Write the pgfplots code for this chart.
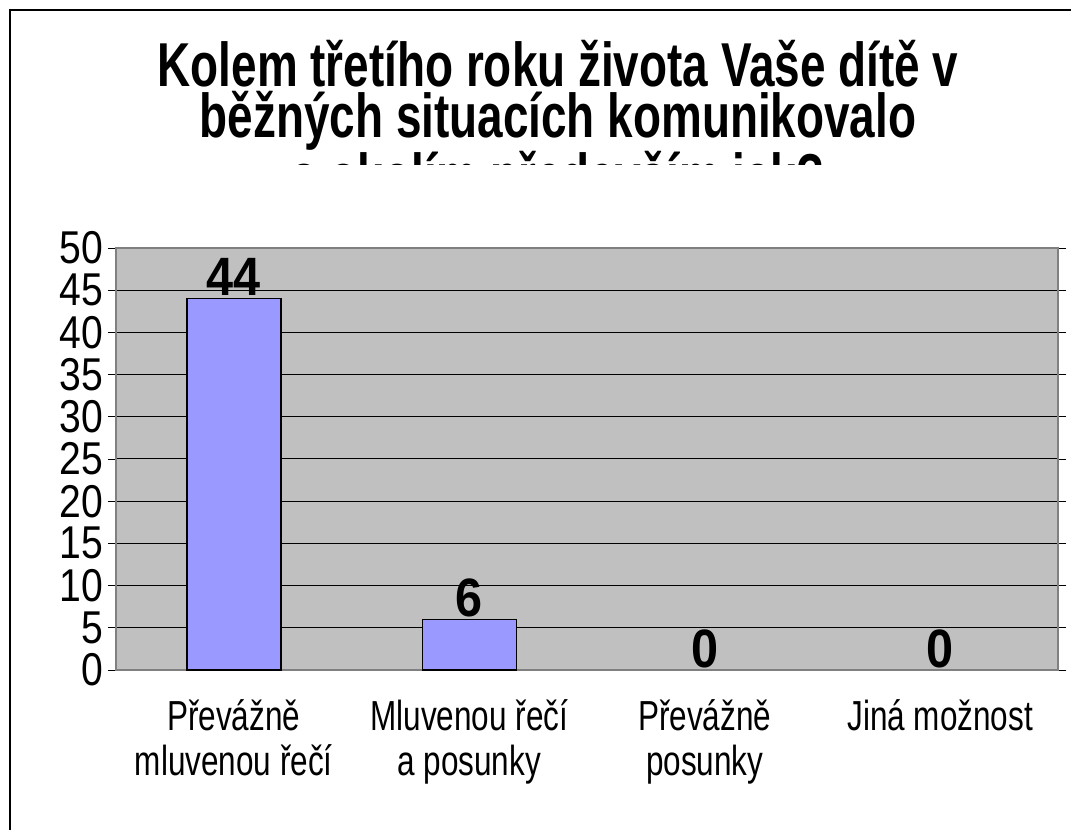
\documentclass[border=0pt]{standalone}
\usepackage{fontspec}
\usepackage{pgfplots}
\pgfplotsset{compat=1.18}
\setmainfont{Liberation Sans}
\newfontfamily\titlefont[FakeStretch=0.74]{Liberation Sans}
\newfontfamily\tickfont[FakeStretch=0.85]{Liberation Sans}
\newfontfamily\labfont[FakeStretch=0.75]{Liberation Sans}
\newfontfamily\valfont[FakeStretch=0.9]{Liberation Sans}
\definecolor{plotbg}{HTML}{C0C0C0}
\definecolor{barblue}{HTML}{9999FF}
\definecolor{framegray}{HTML}{808080}
\begin{document}
\begin{tikzpicture}[x=1pt,y=1pt]
\useasboundingbox (0,0) rectangle (1071,830);
\draw[black, line width=2pt] (10,-20) -- (10,820) -- (1090,820);
\begin{axis}[
  at={(116pt,160pt)}, anchor=south west,
  scale only axis, width=942pt, height=422pt,
  ybar, bar width=94pt, bar shift=0pt,
  ymin=0, ymax=50, ytick={0,5,...,50},
  xmin=-0.5, xmax=3.5, xtick={0,1,2,3},
  xticklabels={{Převážně\\mluvenou řečí},{Mluvenou řečí\\a posunky},{Převážně\\posunky},{Jiná možnost}},
  xtick style={draw=none},
  extra x ticks={-0.5,0.5,1.5,2.5,3.5},
  extra x tick labels={},
  extra x tick style={major tick length=13pt, tick style={black, line width=0.8pt}},
  tick align=outside,
  major tick length=8pt,
  ytick style={black, line width=0.8pt},
  ymajorgrids, major grid style={black, line width=1pt},
  axis background/.style={fill=plotbg},
  axis line style={framegray, line width=2pt},
  /pgf/number format/assume math mode=true,
  yticklabel style={font=\tickfont\fontsize{46}{46}\selectfont, inner sep=1pt, xshift=-4pt},
  xticklabel style={font=\labfont\fontsize{42}{45}\selectfont, align=center, anchor=north, yshift=-18pt},
  nodes near coords,
  every node near coord/.append style={font=\valfont\bfseries\fontsize{54}{54}\selectfont, anchor=south, inner sep=2pt, black},
]
\addplot[fill=barblue, draw=black, line width=1.5pt] coordinates {(0,44) (1,6)};
\addplot[draw=none, fill=none] coordinates {(2,0) (3,0)};
\end{axis}
\begin{scope}
\clip (0,665) rectangle (1071,830);
\node[anchor=north, align=center, inner sep=0pt, font=\titlefont\bfseries\fontsize{62}{51}\selectfont] at (558,790) {Kolem třetího roku života Vaše dítě v\\běžných situacích komunikovalo\\s okolím především jak?};
\end{scope}
\end{tikzpicture}
\end{document}
